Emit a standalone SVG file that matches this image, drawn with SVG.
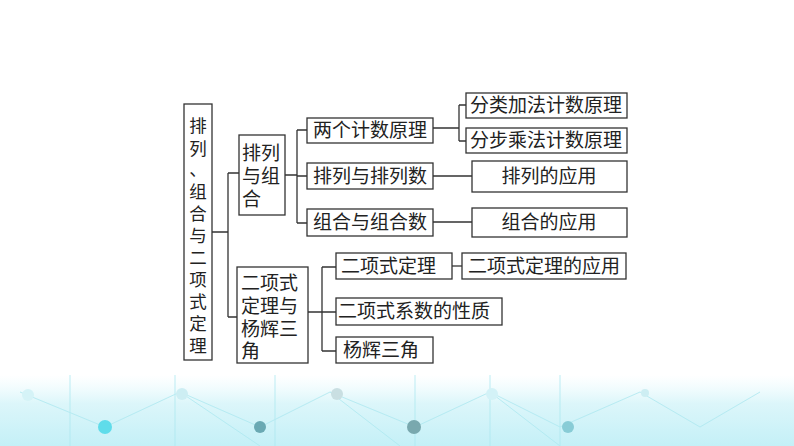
<svg xmlns="http://www.w3.org/2000/svg" width="794" height="446" viewBox="0 0 794 446">
<style>
.b{fill:#fff;stroke:#333;stroke-width:1.3}
.t{font-family:"Noto Sans CJK SC",sans-serif;font-size:19px;fill:#222}
.v{font-size:17.5px}
.c{fill:none;stroke:#333;stroke-width:1.3}
</style>
<defs>
<linearGradient id="g" x1="0" y1="0" x2="0" y2="1">
<stop offset="0" stop-color="#e6fafd" stop-opacity="0"/>
<stop offset="0.4" stop-color="#dcf6fa"/>
<stop offset="1" stop-color="#c4f0f7"/>
</linearGradient>
</defs>
<rect width="794" height="446" fill="#fff"/>
<rect x="0" y="375" width="794" height="71" fill="url(#g)"/>
<g stroke="#aee9f1" stroke-width="1" fill="none" opacity="0.8">
<path d="M20 392 L105 427 L180 392 L260 427 L330 392 L415 427 L490 392 L560 427 L640 392 L700 427 L760 392"/>
<path d="M70 375 V446 M175 375 V446 M275 375 V446 M415 375 V446 M490 375 V446 M560 375 V446"/>
<path d="M180 392 L260 446 M330 392 L400 446 M490 392 L560 446"/>
</g>
<g>
<circle cx="28" cy="395" r="6" fill="#d5f3f7"/>
<circle cx="182" cy="394" r="6" fill="#cdeef3"/>
<circle cx="337" cy="394" r="6" fill="#c9dfe2"/>
<circle cx="492" cy="394" r="6" fill="#d3f2f7"/>
<circle cx="645" cy="393" r="4" fill="#cdeef3"/>
<circle cx="105" cy="427" r="7" fill="#5fdcea"/>
<circle cx="260" cy="427" r="6" fill="#6aa9b3"/>
<circle cx="414" cy="427" r="7" fill="#79a8ae"/>
<circle cx="568" cy="427" r="6" fill="#88ccd6"/>
</g>
<g id="connectors" class="c">
<path d="M212 232 H228 M228 173 V317 M228 173 H239 M228 317 H237"/>
<path d="M285 175 H297 M297 130 V223 M297 130 H307 M297 176 H307 M297 223 H307"/>
<path d="M433 128 H459 M459 105 V141 M459 105 H466 M459 141 H466"/>
<path d="M433 176 H472 M433 222 H472"/>
<path d="M308 312 H322 M322 267 V351 M322 267 H336 M322 312 H336 M322 351 H336"/>
<path d="M452 266 H462"/>
</g>
<g id="n-root"><rect class="b" x="184" y="104" width="28" height="256"/>
<text class="t v" text-anchor="middle" x="198">
<tspan y="132">排</tspan><tspan x="198" y="155">列</tspan><tspan x="198" y="176">、</tspan><tspan x="198" y="198">组</tspan><tspan x="198" y="220">合</tspan><tspan x="198" y="242">与</tspan><tspan x="198" y="264">二</tspan><tspan x="198" y="286">项</tspan><tspan x="198" y="308">式</tspan><tspan x="198" y="330">定</tspan><tspan x="198" y="352">理</tspan></text></g>
<g id="n-plzh"><rect class="b" x="239" y="135" width="46" height="80"/>
<text class="t" x="242"><tspan y="160">排列</tspan><tspan x="242" y="183">与组</tspan><tspan x="242" y="206">合</tspan></text></g>
<g id="n-exp"><rect class="b" x="237" y="267" width="71" height="96"/>
<text class="t" x="241"><tspan y="290">二项式</tspan><tspan x="241" y="313">定理与</tspan><tspan x="241" y="336">杨辉三</tspan><tspan x="241" y="358">角</tspan></text></g>
<g id="n-lg"><rect class="b" x="307" y="118" width="126" height="25"/><text class="t" x="370" y="137" text-anchor="middle">两个计数原理</text></g>
<g id="n-plpls"><rect class="b" x="307" y="163" width="126" height="26"/><text class="t" x="370" y="183" text-anchor="middle">排列与排列数</text></g>
<g id="n-zhzhs"><rect class="b" x="307" y="209" width="126" height="27"/><text class="t" x="370" y="229" text-anchor="middle">组合与组合数</text></g>
<g id="n-fl"><rect class="b" x="466" y="93" width="161" height="25"/><text class="t" x="546" y="112" text-anchor="middle">分类加法计数原理</text></g>
<g id="n-fb"><rect class="b" x="466" y="128" width="161" height="25"/><text class="t" x="546" y="147" text-anchor="middle">分步乘法计数原理</text></g>
<g id="n-plyy"><rect class="b" x="472" y="161" width="155" height="31"/><text class="t" x="549" y="183" text-anchor="middle">排列的应用</text></g>
<g id="n-zhyy"><rect class="b" x="472" y="208" width="155" height="29"/><text class="t" x="549" y="229" text-anchor="middle">组合的应用</text></g>
<g id="n-ex"><rect class="b" x="336" y="253" width="116" height="26"/><text class="t" x="341" y="273">二项式定理</text></g>
<g id="n-exyy"><rect class="b" x="462" y="253" width="164" height="26"/><text class="t" x="544" y="273" text-anchor="middle">二项式定理的应用</text></g>
<g id="n-xs"><rect class="b" x="336" y="298" width="166" height="27"/><text class="t" x="338" y="318">二项式系数的性质</text></g>
<g id="n-yh"><rect class="b" x="336" y="337" width="97" height="26"/><text class="t" x="343" y="357">杨辉三角</text></g>
</svg>
